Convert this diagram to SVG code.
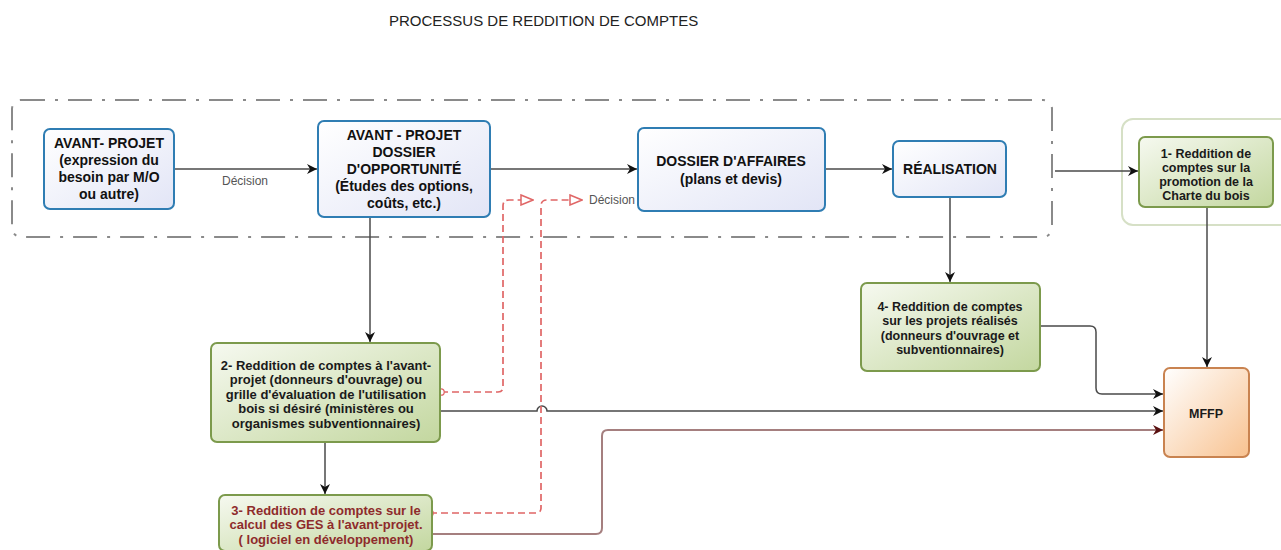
<svg xmlns="http://www.w3.org/2000/svg" width="1281" height="550" viewBox="0 0 1281 550">
<style>
.title{font-family:"Liberation Sans",Arial,sans-serif;font-size:15px;fill:#222}
.bt{font-family:"Liberation Sans",Arial,sans-serif;font-size:14px;font-weight:bold;fill:#111;text-anchor:middle}
.gt{font-family:"Liberation Sans",Arial,sans-serif;font-size:12.5px;font-weight:bold;fill:#1a1a1a;text-anchor:middle}
.gt2{font-size:13px}
.rt{fill:#8e2b2b}
.lbl{font-family:"Liberation Sans",Arial,sans-serif;font-size:12px;fill:#555}
.blue{fill:url(#gBlue);stroke:#2f7db3;stroke-width:2}
.green{fill:url(#gGreen);stroke:#7c9a4c;stroke-width:2}
.orange{fill:url(#gOrange);stroke:#c98350;stroke-width:2}
.ln{fill:none;stroke:#4a4a4a;stroke-width:1.5}
.red{fill:none;stroke:#e06666;stroke-width:1.7;stroke-dasharray:7 4}
.brown{fill:none;stroke:#a57f7f;stroke-width:2}
</style>
<defs>
<linearGradient id="gBlue" x1="0" y1="0" x2="1" y2="1"><stop offset="0" stop-color="#ffffff"/><stop offset="1" stop-color="#e2e5f6"/></linearGradient>
<linearGradient id="gGreen" x1="0" y1="0" x2="1" y2="1"><stop offset="0" stop-color="#f6f9f0"/><stop offset="1" stop-color="#c3d79f"/></linearGradient>
<linearGradient id="gOrange" x1="0" y1="0" x2="1" y2="1"><stop offset="0" stop-color="#ffffff"/><stop offset="1" stop-color="#f8c290"/></linearGradient>
<marker id="arr" viewBox="0 0 10 10" refX="10" refY="5" markerWidth="10" markerHeight="10" markerUnits="userSpaceOnUse" orient="auto"><path d="M0,0 L10,5 L0,10 L3,5 z" fill="#111"/></marker>
<marker id="arrR" viewBox="0 0 10 10" refX="10" refY="5" markerWidth="10" markerHeight="10" markerUnits="userSpaceOnUse" orient="auto"><path d="M0,0 L10,5 L0,10 L3,5 z" fill="#5a1010"/></marker>
<marker id="tri" viewBox="0 0 14 12" refX="13" refY="6" markerWidth="14" markerHeight="12" markerUnits="userSpaceOnUse" orient="auto"><path d="M1,1 L13,6 L1,11 z" fill="#fff" stroke="#e06666" stroke-width="1.5"/></marker>
<marker id="circ" viewBox="0 0 10 10" refX="5" refY="5" markerWidth="9" markerHeight="9" markerUnits="userSpaceOnUse"><circle cx="5" cy="5" r="3.6" fill="#fff" stroke="#e06666" stroke-width="1.4"/></marker>
</defs>
<rect width="1281" height="550" fill="#fff"/>
<text class="title" x="389" y="26">PROCESSUS DE REDDITION DE COMPTES</text>

<g id="phase-container">
<rect x="12" y="100" width="1040" height="137" rx="9" fill="none" stroke="#8a8a8a" stroke-width="2" stroke-dasharray="24 10 3 10"/>
</g>
<g id="charte-container">
<rect x="1122" y="119" width="180" height="106" rx="11" fill="none" stroke="#d6e0c6" stroke-width="2"/>
</g>

<g id="connectors">
<path class="ln" d="M174,169 H317" marker-end="url(#arr)"/>
<text class="lbl" x="245" y="185" text-anchor="middle">Décision</text>
<path class="ln" d="M490,169 H637" marker-end="url(#arr)"/>
<path class="ln" d="M825,169 H892" marker-end="url(#arr)"/>
<path class="ln" d="M1055,171 H1138" marker-end="url(#arr)"/>
<path class="ln" d="M370,217 V342" marker-end="url(#arr)"/>
<path class="ln" d="M325,442 V494" marker-end="url(#arr)"/>
<path class="ln" d="M950,197 V282" marker-end="url(#arr)"/>
<path class="ln" d="M1207,207 V367" marker-end="url(#arr)"/>
<path class="ln" d="M1040,326 H1090 q6,0 6,6 V388 q0,6 6,6 H1163" marker-end="url(#arr)"/>
<path class="ln" d="M440,411 H537 a5,5 0 0 1 10,0 H1163" marker-end="url(#arr)"/>
<path class="brown" d="M432,534 H596 q6,0 6,-6 V436 q0,-6 6,-6 H1163" marker-end="url(#arrR)"/>
<path class="red" d="M441,392 H498 q5,0 5,-5 V206 q0,-6 6,-6 H533" marker-start="url(#circ)" marker-end="url(#tri)"/>
<path class="red" d="M430,513 H536 q5,0 5,-5 V206 q0,-6 6,-6 H582" marker-start="url(#circ)" marker-end="url(#tri)"/>
<text class="lbl" x="589" y="204">Décision</text>
</g>

<g id="avant-projet">
<rect class="blue" x="44" y="129" width="130" height="80" rx="6"/>
<text class="bt"><tspan x="109" y="148">AVANT- PROJET</tspan><tspan x="109" y="165">(expression du</tspan><tspan x="109" y="182">besoin par M/O</tspan><tspan x="109" y="199">ou autre)</tspan></text>
</g>
<g id="dossier-opportunite">
<rect class="blue" x="318" y="121" width="172" height="96" rx="6"/>
<text class="bt"><tspan x="404" y="140">AVANT - PROJET</tspan><tspan x="404" y="157">DOSSIER</tspan><tspan x="404" y="174">D'OPPORTUNITÉ</tspan><tspan x="404" y="191">(Études des options,</tspan><tspan x="404" y="208">coûts, etc.)</tspan></text>
</g>
<g id="dossier-affaires">
<rect class="blue" x="638" y="128" width="187" height="83" rx="6"/>
<text class="bt"><tspan x="731" y="166">DOSSIER D'AFFAIRES</tspan><tspan x="731" y="184">(plans et devis)</tspan></text>
</g>
<g id="realisation">
<rect class="blue" x="893" y="141" width="113" height="56" rx="6"/>
<text class="bt" x="950" y="174">RÉALISATION</text>
</g>
<g id="reddition-1">
<rect class="green" x="1139" y="137" width="134" height="70" rx="6"/>
<text class="gt"><tspan x="1206" y="158">1- Reddition de</tspan><tspan x="1206" y="172">comptes sur la</tspan><tspan x="1206" y="186">promotion de la</tspan><tspan x="1206" y="200">Charte du bois</tspan></text>
</g>
<g id="reddition-2">
<rect class="green" x="211" y="343" width="229" height="99" rx="6"/>
<text class="gt gt2"><tspan x="326" y="369.5">2- Reddition de comptes à l'avant-</tspan><tspan x="326" y="384">projet (donneurs d'ouvrage) ou</tspan><tspan x="326" y="398.5">grille d'évaluation de l'utilisation</tspan><tspan x="326" y="413">bois si désiré (ministères ou</tspan><tspan x="326" y="427.5">organismes subventionnaires)</tspan></text>
</g>
<g id="reddition-3">
<rect class="green" x="219" y="495" width="213" height="56" rx="6"/>
<text class="gt gt2 rt"><tspan x="326" y="514.5">3- Reddition de comptes sur le</tspan><tspan x="326" y="529">calcul des GES à l'avant-projet.</tspan><tspan x="326" y="543.5">( logiciel en développement)</tspan></text>
</g>
<g id="reddition-4">
<rect class="green" x="861" y="283" width="179" height="88" rx="6"/>
<text class="gt"><tspan x="950" y="310.5">4- Reddition de comptes</tspan><tspan x="950" y="325">sur les projets réalisés</tspan><tspan x="950" y="339.5">(donneurs d'ouvrage et</tspan><tspan x="950" y="354">subventionnaires)</tspan></text>
</g>
<g id="mffp">
<rect class="orange" x="1164" y="368" width="85" height="89" rx="6"/>
<text class="gt" x="1206" y="417.5">MFFP</text>
</g>
</svg>
